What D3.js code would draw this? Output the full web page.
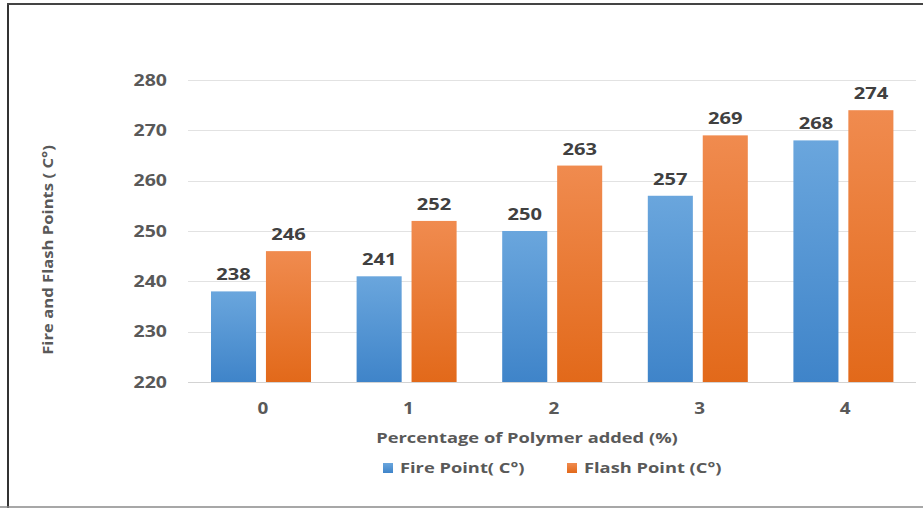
<!DOCTYPE html>
<html>
<head>
<meta charset="utf-8">
<script src="https://cdn.jsdelivr.net/npm/d3@7"></script>
<style>
  body { margin: 0; background: #fff; }
  text { font-family: "Open Sans", "DejaVu Sans", sans-serif; font-weight: bold; }
</style>
</head>
<body>
<svg width="923" height="508"></svg>
<script>
var categories = ["0", "1", "2", "3", "4"];
var seriesNames = ["Fire Point( C°)", "Flash Point (C°)"];
var firePoint = [238, 241, 250, 257, 268];
var flashPoint = [246, 252, 263, 269, 274];
var yTicks = [220, 230, 240, 250, 260, 270, 280];

var svg = d3.select("svg"),
    width = +svg.attr("width"),
    height = +svg.attr("height");

var colors = ["blue", "orange"];
// the source picture is stretched a bit sideways, so text is too
var stretch = 1.22;

function place(x, yy) {
  return "translate(" + x + "," + yy + ") scale(" + stretch + ",1)";
}

// gradients for the bars
var defs = svg.append("defs");
var grads = [
  { id: "blue", top: "#6aa6dd", bottom: "#3f84c9" },
  { id: "orange", top: "#f08b4f", bottom: "#e2691a" }
];
grads.forEach(function(g) {
  var lg = defs.append("linearGradient")
      .attr("id", "g-" + g.id)
      .attr("x1", 0).attr("y1", 0).attr("x2", 0).attr("y2", 1);
  lg.append("stop").attr("offset", "0%").attr("stop-color", g.top);
  lg.append("stop").attr("offset", "100%").attr("stop-color", g.bottom);
});

// frame
svg.append("line").attr("x1", 8).attr("y1", 3).attr("x2", 8).attr("y2", 508)
    .attr("stroke", "#333").attr("stroke-width", 2);
svg.append("line").attr("x1", 7).attr("y1", 4).attr("x2", 923).attr("y2", 4)
    .attr("stroke", "#444").attr("stroke-width", 2);
svg.append("line").attr("x1", 0).attr("y1", 507).attr("x2", 923).attr("y2", 507)
    .attr("stroke", "#8a8a8a").attr("stroke-width", 1.5);

var x0 = d3.scaleBand()
    .domain(categories)
    .range([188, 916]);

var x1 = d3.scaleBand()
    .domain([0, 1])
    .range([23, 123])
    .paddingInner(0.18);

var y = d3.scaleLinear()
    .domain([220, 280])
    .range([382, 80]);

// gridlines
svg.append("g")
    .attr("class", "grid")
  .selectAll("line")
  .data(yTicks)
  .enter().append("line")
    .attr("x1", 188)
    .attr("x2", 916)
    .attr("y1", function(d) { return Math.round(y(d)) + 0.5; })
    .attr("y2", function(d) { return Math.round(y(d)) + 0.5; })
    .attr("stroke", function(d) { return d === 220 ? "#d3d3d3" : "#e2e2e2"; })
    .attr("stroke-width", 1);

// y tick labels
svg.append("g")
  .selectAll("text")
  .data(yTicks)
  .enter().append("text")
    .attr("transform", function(d) { return place(167, y(d) + 5.5); })
    .attr("text-anchor", "end")
    .attr("font-size", 16)
    .attr("fill", "#595959")
    .text(function(d) { return d; });

var rows = categories.map(function(c, i) {
  return { cat: c, values: [firePoint[i], flashPoint[i]] };
});

var groups = svg.append("g")
  .selectAll("g")
  .data(rows)
  .enter().append("g")
    .attr("transform", function(d) { return "translate(" + x0(d.cat) + ",0)"; });

var bars = groups.selectAll("g")
  .data(function(d) { return d.values.map(function(v, k) { return { k: k, v: v }; }); })
  .enter().append("g");

bars.append("rect")
    .attr("x", function(d) { return x1(d.k); })
    .attr("y", function(d) { return y(d.v); })
    .attr("width", x1.bandwidth())
    .attr("height", function(d) { return y(220) - y(d.v); })
    .attr("fill", function(d) { return "url(#g-" + colors[d.k] + ")"; });

bars.append("text")
    .attr("transform", function(d) {
      return place(x1(d.k) + x1.bandwidth() / 2, y(d.v) - 11);
    })
    .attr("text-anchor", "middle")
    .attr("font-size", 16.5)
    .attr("fill", "#404040")
    .text(function(d) { return d.v; });

// x tick labels
svg.append("g")
  .selectAll("text")
  .data(categories)
  .enter().append("text")
    .attr("transform", function(d) { return place(x0(d) + x0.bandwidth() / 2 + 2, 414); })
    .attr("text-anchor", "middle")
    .attr("font-size", 15.5)
    .attr("fill", "#595959")
    .text(function(d) { return d; });

// axis titles
svg.append("text")
    .attr("transform", place(527, 443))
    .attr("text-anchor", "middle")
    .attr("font-size", 15)
    .attr("fill", "#595959")
    .text("Percentage of Polymer added (%)");

svg.append("text")
    .attr("transform", "translate(53,250) rotate(-90) scale(1.19,1)")
    .attr("text-anchor", "middle")
    .attr("font-size", 14)
    .attr("fill", "#595959")
    .text("Fire and Flash Points ( C°)");

// legend
var legendX = [383, 567];
var legend = svg.append("g")
  .selectAll("g")
  .data(seriesNames)
  .enter().append("g")
    .attr("transform", function(d, i) { return "translate(" + legendX[i] + ",463)"; });

legend.append("rect")
    .attr("width", 10)
    .attr("height", 10)
    .attr("fill", function(d, i) { return "url(#g-" + colors[i] + ")"; });

legend.append("text")
    .attr("transform", place(17, 10))
    .attr("font-size", 15)
    .attr("fill", "#595959")
    .text(function(d) { return d; });
</script>
</body>
</html>
